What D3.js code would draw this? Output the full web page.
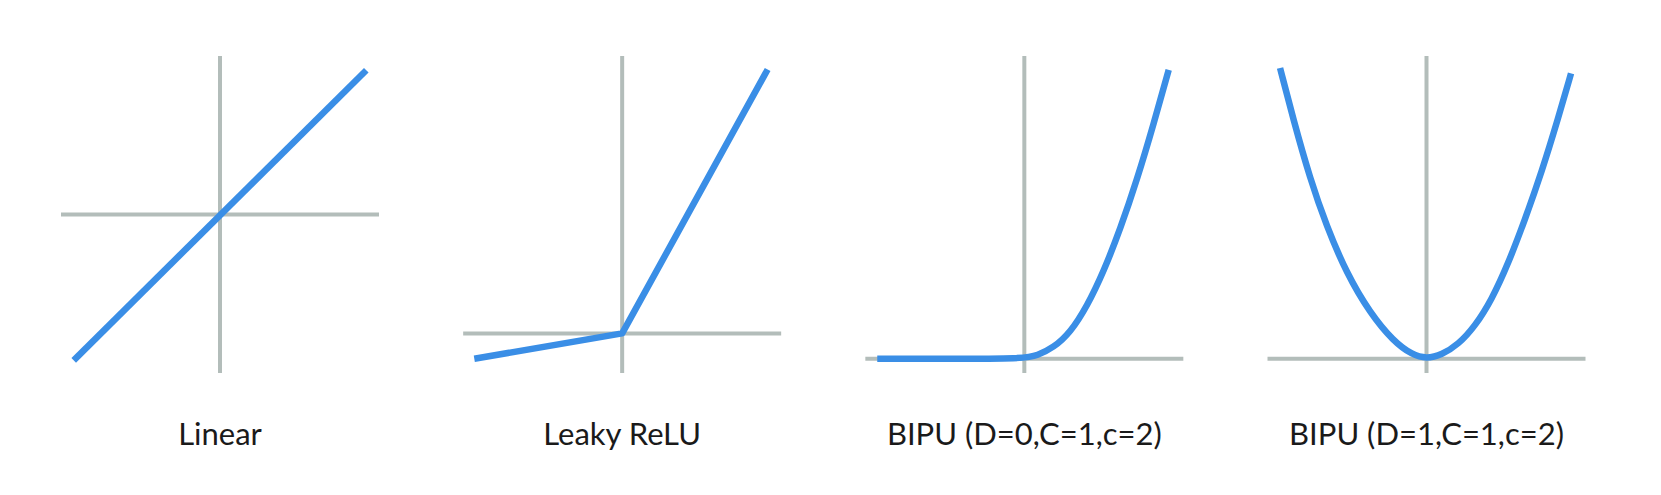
<!DOCTYPE html>
<html>
<head>
<meta charset="utf-8">
<script src="https://cdn.jsdelivr.net/npm/d3@7"></script>
<style>
  body { margin: 0; background: #fff; }
  svg { display: block; }
</style>
</head>
<body>
<svg id="chart" width="1661" height="495"></svg>
<script>
// panel titles
const titles = ["Linear", "Leaky ReLU", "BIPU (D=0,C=1,c=2)", "BIPU (D=1,C=1,c=2)"];

// vertical extent of each panel's y axis (data units)
const yDomains = [[-1, 1], [-0.25, 1.75], [-0.09, 1.91], [-0.09, 1.91]];

// curve points, [x, y]
const linearPts = [[-0.92, -0.92], [0.92, 0.91]];
const leakyPts = [[-0.93, -0.16], [0, 0], [0.915, 1.665]];
const bipu0Pts = [[-0.925, 0], [-0.5, 0], [0, 0], [0.08, 0.02], [0.184, 0.07], [0.289, 0.165],
                  [0.394, 0.33], [0.499, 0.55], [0.604, 0.82], [0.709, 1.13],
                  [0.813, 1.48], [0.908, 1.823]];
const bipu1Pts = [[-0.921, 1.834], [-0.837, 1.508], [-0.733, 1.138], [-0.628, 0.835],
                  [-0.503, 0.54], [-0.355, 0.288], [-0.208, 0.11], [-0.09, 0.025], [0, 0],
                  [0.096, 0.025], [0.2, 0.09], [0.305, 0.205], [0.41, 0.372], [0.514, 0.6],
                  [0.619, 0.877], [0.725, 1.18], [0.829, 1.52], [0.909, 1.80]];

const series = [linearPts, leakyPts, bipu0Pts, bipu1Pts];
const curves = [d3.curveLinear, d3.curveLinear, d3.curveBasis, d3.curveBasis];

const svg = d3.select("#chart");
const half = 159;
const center = d3.scalePoint().domain(titles).range([220, 1426.5]);

titles.forEach((t, i) => {
  const cx = center(t);
  const x = d3.scaleLinear().domain([-1, 1]).range([cx - half, cx + half]);
  const y = d3.scaleLinear().domain(yDomains[i]).range([373, 56]);
  const g = svg.append("g");

  // axes
  g.append("line")
    .attr("x1", x(-1)).attr("x2", x(1))
    .attr("y1", y(0)).attr("y2", y(0))
    .attr("stroke", "#b3bdba").attr("stroke-width", 4);
  g.append("line")
    .attr("x1", x(0)).attr("x2", x(0))
    .attr("y1", y(yDomains[i][0])).attr("y2", y(yDomains[i][1]))
    .attr("stroke", "#b3bdba").attr("stroke-width", 4);

  // function curve
  const line = d3.line()
    .x(d => x(d[0]))
    .y(d => y(d[1]))
    .curve(curves[i]);
  g.append("path")
    .datum(series[i])
    .attr("d", line)
    .attr("fill", "none")
    .attr("stroke", "#3a8ee6")
    .attr("stroke-width", 6.5)
    .attr("stroke-linejoin", "round");

  g.append("text")
    .attr("x", cx)
    .attr("y", 445)
    .attr("text-anchor", "middle")
    .attr("font-family", "Lato, 'Open Sans', sans-serif")
    .attr("font-size", 31)
    .attr("fill", "#1a1a1a")
    .text(t);
});
</script>
</body>
</html>
